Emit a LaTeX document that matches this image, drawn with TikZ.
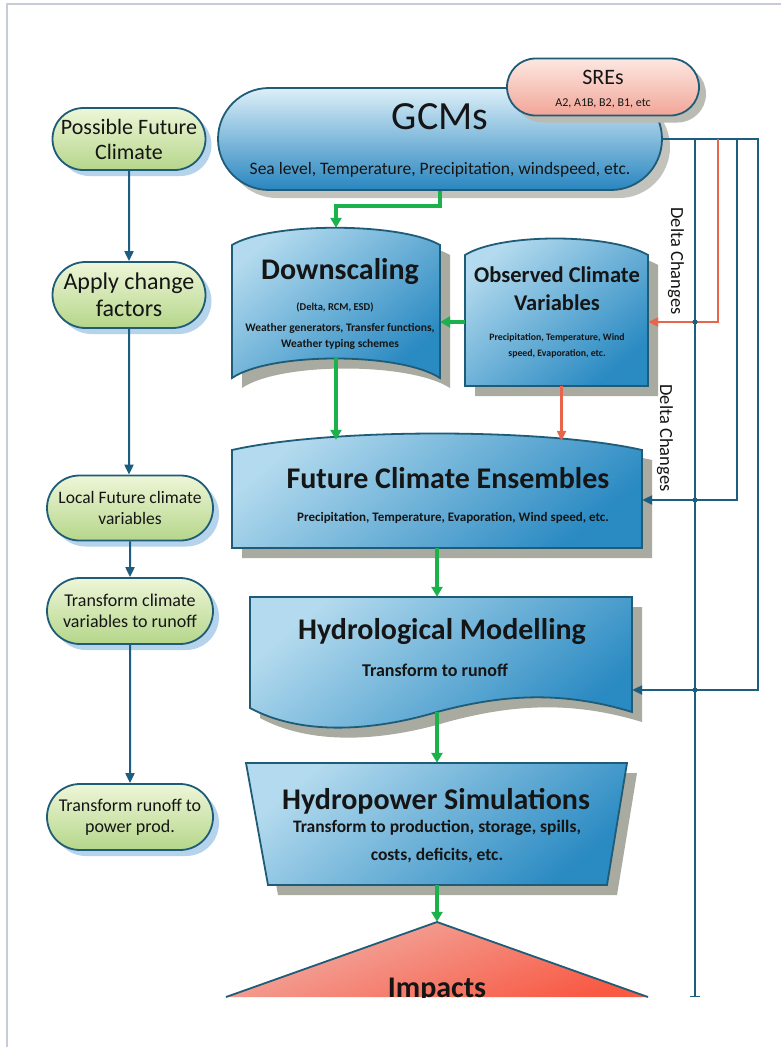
\documentclass[tikz,border=0pt]{standalone}
\usepackage{fontspec}
\setmainfont{Carlito}
\usetikzlibrary{shapes.misc,arrows.meta,calc,shadows}
\definecolor{blueLight}{HTML}{B3DAEE}
\definecolor{blueDark}{HTML}{2A8AC2}
\definecolor{boxEdge}{HTML}{1E5C78}
\definecolor{shadowGray}{HTML}{A9AAA0}
\definecolor{gcmLight}{HTML}{DDEFF8}
\definecolor{gcmDark}{HTML}{2886C0}
\definecolor{greenLight}{HTML}{EEF6D8}
\definecolor{greenDark}{HTML}{B5D68A}
\definecolor{leftShadow}{HTML}{B5D4EC}
\definecolor{pinkLight}{HTML}{FCE8E2}
\definecolor{pinkDark}{HTML}{F2A597}
\definecolor{impLight}{HTML}{F1B2AA}
\definecolor{impDark}{HTML}{F85A44}
\definecolor{greenArrow}{HTML}{1BB24B}
\definecolor{blueLine}{HTML}{1D5E80}
\definecolor{redLine}{HTML}{E8654B}
\definecolor{frameGray}{HTML}{C8CCD8}
\definecolor{darkText}{HTML}{151515}
\tikzset{
  leftnode/.style={rounded rectangle, draw=boxEdge, line width=1.8pt,
    top color=greenLight, bottom color=greenDark, align=center, inner sep=0pt,
    text=darkText, font=\fontsize{18}{21}\selectfont,
    general shadow={fill=leftShadow, shadow xshift=6pt, shadow yshift=-6pt}},
  bluebox/.style={draw=boxEdge, line width=1.8pt, top color=blueLight,
    bottom color=blueDark, shading angle=40},
  shadowbox/.style={fill=shadowGray},
  anchorbox/.style={draw=none, inner sep=0pt, rectangle},
  title/.style={font=\bfseries\fontsize{30}{34}\selectfont, text=darkText},
  small/.style={font=\bfseries\fontsize{10}{13}\selectfont, text=darkText, align=center},
  garrow/.style={draw=greenArrow, line width=3.2pt, -{Triangle[length=10pt,width=11pt]}},
  barrow/.style={draw=blueLine, line width=2.2pt, -{Triangle[length=10pt,width=9pt]}},
  rarrow/.style={draw=redLine, line width=2.2pt, -{Triangle[length=10pt,width=9pt]}},
  larrow/.style={draw=blueLine, line width=2pt, -{Triangle[length=10pt,width=9pt]}},
  deltalabel/.style={rotate=-90, font=\fontsize{18.5}{20}\selectfont, text=darkText}
}
\begin{document}
\begin{tikzpicture}[x=1pt,y=-1pt]
\useasboundingbox (0,0) rectangle (781,1047);
\fill[white] (0,0) rectangle (781,1047);
\draw[frameGray, line width=2.5pt] (7,1047) -- (7,4) -- (781,4);

% ---- left column ----
\node[leftnode, minimum width=153pt, minimum height=62pt, font=\fontsize{22}{25}\selectfont] (pfc) at (129,139) {Possible Future\\Climate};
\node[leftnode, minimum width=153pt, minimum height=66pt, font=\fontsize{24}{27}\selectfont] (acf) at (129,295) {Apply change\\factors};
\node[leftnode, minimum width=166pt, minimum height=65pt, font=\fontsize{17.5}{21}\selectfont] (lfc) at (130,508) {Local Future climate\\variables};
\node[leftnode, minimum width=166pt, minimum height=66pt] (tcv) at (130,611) {Transform climate\\variables to runoff};
\node[leftnode, minimum width=166pt, minimum height=66pt] (trp) at (130,817) {Transform runoff to\\power prod.};
\draw[larrow] (pfc) -- (acf);
\draw[larrow] (acf) -- (acf |- lfc.north);
\draw[larrow] (lfc) -- (tcv);
\draw[larrow] (tcv) -- (trp);

% ---- GCMs and SREs ----
\node[rounded rectangle, draw=boxEdge, line width=1.8pt, top color=gcmLight, bottom color=gcmDark,
  minimum width=444pt, minimum height=102pt, inner sep=0pt,
  general shadow={fill=shadowGray!70, shadow xshift=8pt, shadow yshift=-8pt}] (gcm) at (440,139) {};
\node[font=\fontsize{40}{44}\selectfont, text=darkText] (gcmt) at (440,117) {GCMs};
\node[font=\fontsize{17.5}{20}\selectfont, text=darkText] (gcms) at (440,170) {Sea level, Temperature, Precipitation, windspeed, etc.};
\node[rounded rectangle, draw=boxEdge, line width=1.8pt, top color=pinkLight, bottom color=pinkDark,
  minimum width=192pt, minimum height=57pt, inner sep=0pt,
  general shadow={fill=shadowGray!80, shadow xshift=7pt, shadow yshift=-7pt}] (sre) at (603,87) {};
\node[font=\fontsize{22}{24}\selectfont, text=darkText] (sret) at (603,77) {SREs};
\node[font=\fontsize{12}{14}\selectfont, text=darkText] (sres) at (603,103) {A2, A1B, B2, B1, etc};

% ---- shadows of the custom shapes ----
\begin{scope}[shift={(10,10)}]
\fill[shadowbox] (232,245) .. controls (270,222) and (400,222) .. (440,245) -- (440,378) .. controls (400,352) and (270,352) .. (232,378) -- cycle;
\fill[shadowbox] (465,255) .. controls (500,233) and (610,233) .. (648,255) -- (648,386) -- (465,386) -- cycle;
\fill[shadowbox] (232,450) .. controls (330,428) and (545,428) .. (642,450) -- (642,548) -- (232,548) -- cycle;
\fill[shadowbox] (250,597) -- (632,597) -- (632,712) .. controls (560,690) and (500,695) .. (437,712) .. controls (370,732) and (300,735) .. (250,708) -- cycle;
\fill[shadowbox] (246,763) -- (627,763) -- (607,885) -- (268,885) -- cycle;
\end{scope}

% ---- blue boxes ----
\path[bluebox] (232,245) .. controls (270,222) and (400,222) .. (440,245) -- (440,378) .. controls (400,352) and (270,352) .. (232,378) -- cycle;
\path[bluebox] (465,255) .. controls (500,233) and (610,233) .. (648,255) -- (648,386) -- (465,386) -- cycle;
\path[bluebox] (232,450) .. controls (330,428) and (545,428) .. (642,450) -- (642,548) -- (232,548) -- cycle;
\path[bluebox] (250,597) -- (632,597) -- (632,712) .. controls (560,690) and (500,695) .. (437,712) .. controls (370,732) and (300,735) .. (250,708) -- cycle;
\path[bluebox] (246,763) -- (627,763) -- (607,885) -- (268,885) -- cycle;

% ---- Impacts ----
\shade[top color=impLight, bottom color=impDark, shading angle=20] (437,922) -- (648,997) -- (226,997) -- cycle;
\draw[boxEdge, line width=1.8pt] (226,997) -- (437,922) -- (648,997);

% ---- anchor frames ----
\node[anchorbox, minimum width=208pt, minimum height=150pt] (down) at (336,303) {};
\node[anchorbox, minimum width=183pt, minimum height=148pt] (obs) at (556.5,312) {};
\node[anchorbox, minimum width=410pt, minimum height=115pt] (fut) at (437,490.5) {};
\node[anchorbox, minimum width=390pt, minimum height=115pt] (hyd) at (437,654.5) {};
\node[anchorbox, minimum width=381pt, minimum height=122pt] (hps) at (436.5,824) {};
\node[anchorbox, minimum width=422pt, minimum height=75pt] (imp) at (437,959.5) {};

% ---- texts ----
\node[title] (downt) at (340,272) {Downscaling};
\node[small, font=\bfseries\fontsize{10.5}{13}\selectfont] (downs1) at (335,307) {(Delta, RCM, ESD)};
\node[small, font=\bfseries\fontsize{11.5}{16}\selectfont] (downs2) at (340,336) {Weather generators, Transfer functions,\\Weather typing schemes};
\node[title, font=\bfseries\fontsize{22.5}{28}\selectfont, align=center] (obst) at (557,289) {Observed Climate\\Variables};
\node[small, font=\bfseries\fontsize{9.8}{16}\selectfont] (obss) at (557,346) {Precipitation, Temperature, Wind\\speed, Evaporation, etc.};
\node[title] (futt) at (448,478) {Future Climate Ensembles};
\node[small, font=\bfseries\fontsize{13}{15}\selectfont] (futs) at (453,518) {Precipitation, Temperature, Evaporation, Wind speed, etc.};
\node[title] (hydt) at (442,632) {Hydrological Modelling};
\node[small, font=\bfseries\fontsize{18}{20}\selectfont] (hyds) at (435,670) {Transform to runoff};
\node[title] (hpst) at (436,801) {Hydropower Simulations};
\node[small, font=\bfseries\fontsize{17.5}{28}\selectfont] (hpss) at (437,842) {Transform to production, storage, spills,\\costs, deficits, etc.};
\begin{scope}
\clip (0,0) rectangle (781,997);
\node[title] (impt) at (437,990) {Impacts};
\end{scope}

% ---- green / red flow arrows ----
\draw[garrow] (gcm.south) -- ++(0,15) -| (down.north);
\draw[garrow] ($(obs.west)+(0,10)$) -- ($(down.east)+(0,19)$);
\draw[garrow] ($(down.south)+(0,-21)$) -- ($(down.south |- fut.north)+(0,7)$);
\draw[rarrow] ($(obs.south)+(5,0)$) -- ($(obs.south |- fut.north)+(5,8)$);
\draw[garrow] (fut.south) -- (fut.south |- hyd.north);
\draw[garrow] (hyd.south) -- (hyd.south |- hps.north);
\draw[garrow] (hps.south -| imp.north) -- (imp.north);

% ---- delta change connectors ----
\coordinate (c1) at (758,690);
\coordinate (c2) at (737,500);
\coordinate (c3) at (718,322);
\coordinate (c4) at (695,997);
\draw[barrow] (gcm.east) -| (c1) -- (hyd.east |- c1);
\draw[barrow] (gcm.east -| c2) -- (c2) -- (fut.east |- c2);
\draw[rarrow] (gcm.east -| c3) -- (c3) -- (obs.east |- c3);
\draw[draw=blueLine, line width=2.2pt, -{Bar[width=10pt,line width=1.5pt]}] (gcm.east -| c4) -- (c4);
\fill[blueLine] (c4 |- c3) circle (2.6);
\fill[blueLine] (c4 |- c2) circle (2.6);
\fill[blueLine] (c4 |- c1) circle (2.6);
\node[deltalabel] (dc1) at (676,261) {Delta Changes};
\node[deltalabel] (dc2) at (665,438) {Delta Changes};
\end{tikzpicture}
\end{document}
